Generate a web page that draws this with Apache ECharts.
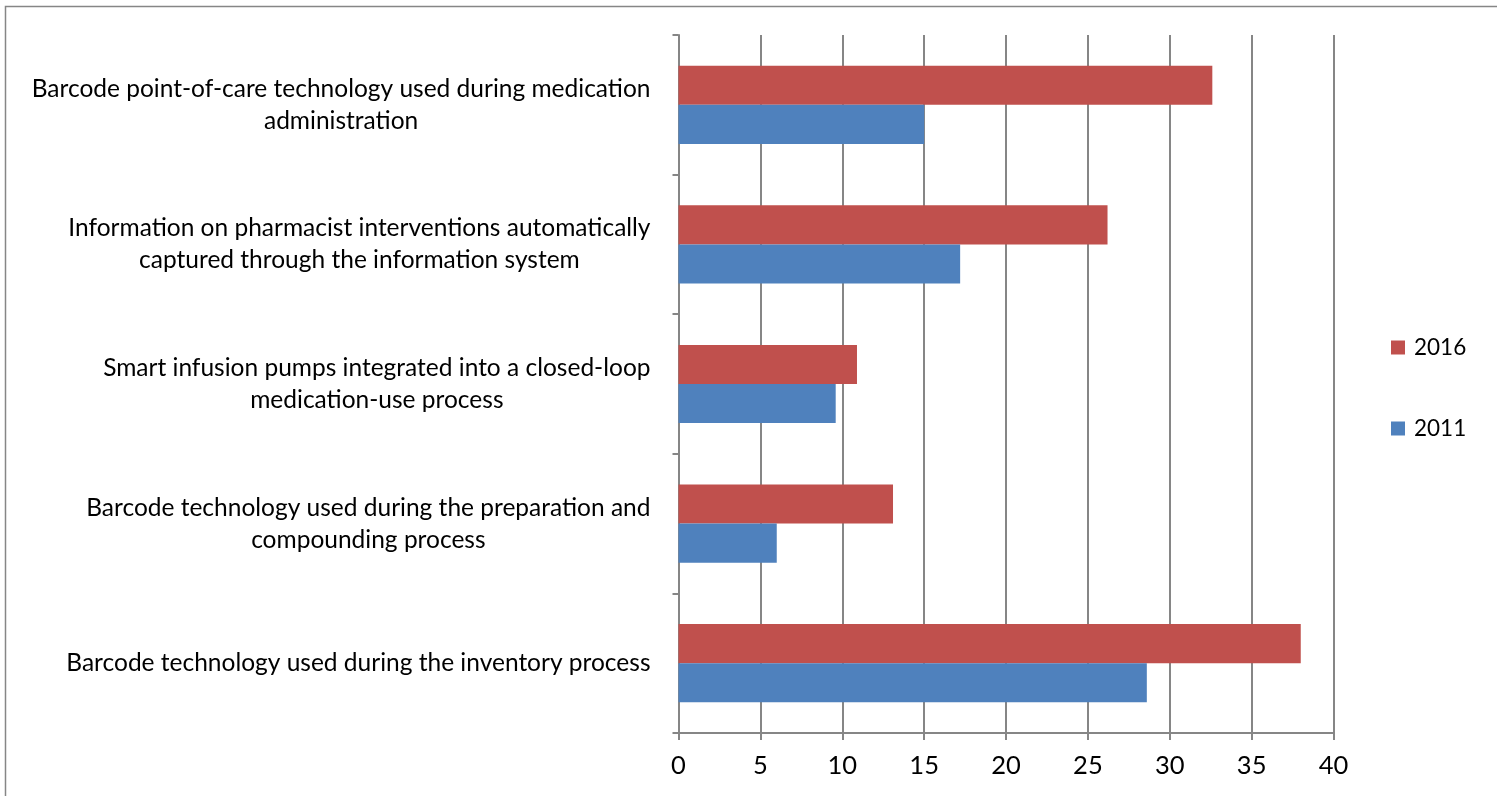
<!DOCTYPE html>
<html>
<head>
<meta charset="utf-8">
<script src="https://cdn.jsdelivr.net/npm/echarts@6/dist/echarts.min.js"></script>
<style>
  html, body { margin: 0; padding: 0; background: #fff; }
  #chart { width: 1497px; height: 796px; }
</style>
</head>
<body>
<div id="chart"></div>
<script>
// Categories, listed bottom-to-top as the category axis draws them
const categories = [
  'Barcode technology used during the inventory process',
  'Barcode technology used during the preparation and\ncompounding process',
  'Smart infusion pumps integrated into a closed-loop\nmedication-use process',
  'Information on pharmacist interventions automatically\ncaptured through the information system',
  'Barcode point-of-care technology used during medication\nadministration'
];
const values2016 = [38.0, 13.1, 10.9, 26.2, 32.6];
const values2011 = [28.6, 6.0, 9.6, 17.2, 15.0];
const xTicks = { min: 0, max: 40, interval: 5 };

const FONT = 'Lato';
const GRAY = '#868686';

const chart = echarts.init(document.getElementById('chart'), null, { renderer: 'canvas' });

chart.setOption({
  animation: false,
  backgroundColor: '#fff',
  textStyle: { fontFamily: FONT, color: '#000' },
  graphic: [{
    type: 'rect',
    shape: { x: 5.5, y: 6.5, width: 1600, height: 900 },
    style: { fill: 'none', stroke: GRAY, lineWidth: 1.5 },
    silent: true,
    z: -10
  }],
  grid: { left: 678.5, right: 163.5, top: 35, bottom: 63 },
  legend: {
    orient: 'vertical',
    left: 1391,
    top: 336,
    padding: 0,
    data: ['2016', '2011'],
    icon: 'rect',
    itemWidth: 14,
    itemHeight: 14,
    itemGap: 58,
    textStyle: { fontFamily: FONT, fontSize: 22.5, lineHeight: 14, color: '#000', padding: [0, 0, 0, 4] }
  },
  xAxis: {
    type: 'value',
    min: xTicks.min,
    max: xTicks.max,
    interval: xTicks.interval,
    axisLine: { show: true, lineStyle: { color: GRAY, width: 2 } },
    axisTick: { show: true, length: 7, lineStyle: { color: GRAY, width: 2 } },
    splitLine: { show: true, lineStyle: { color: GRAY, width: 2 } },
    axisLabel: { fontFamily: FONT, fontSize: 25.5, color: '#000', margin: 20 }
  },
  yAxis: {
    type: 'category',
    data: categories,
    axisLine: { show: true, lineStyle: { color: GRAY, width: 2 } },
    axisTick: { show: true, length: 6, lineStyle: { color: GRAY, width: 2 } },
    axisLabel: {
      margin: 28,
      fontFamily: FONT,
      fontSize: 24.5,
      lineHeight: 32,
      color: '#000',
      formatter: function (v) {
        return v.split('\n').map(function (s) { return '{c|' + s + '}'; }).join('\n');
      },
      rich: {
        c: { align: 'center', fontFamily: FONT, fontSize: 24.5, lineHeight: 32, color: '#000' }
      }
    }
  },
  series: [
    {
      name: '2016',
      type: 'bar',
      data: values2016,
      itemStyle: { color: '#C0504D' },
      barGap: '0%',
      barCategoryGap: '44%'
    },
    {
      name: '2011',
      type: 'bar',
      data: values2011,
      itemStyle: { color: '#4F81BD' },
      barGap: '0%',
      barCategoryGap: '44%'
    }
  ]
});
</script>
</body>
</html>
